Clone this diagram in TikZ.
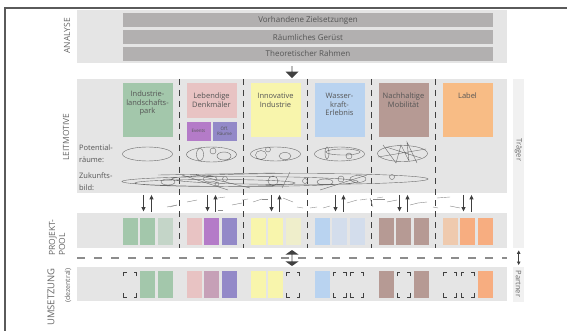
\documentclass[tikz,border=0pt]{standalone}
\usepackage{fontspec}
\setmainfont{Open Sans}
\usetikzlibrary{positioning,arrows.meta,shapes.arrows}

\definecolor{band}{HTML}{E5E5E5}
\definecolor{balken}{HTML}{B2B0B0}
\definecolor{seite}{HTML}{F1F1F1}
\definecolor{tinte}{HTML}{555555}
\definecolor{titelgrau}{HTML}{666666}
\definecolor{dunkel}{HTML}{404040}
\definecolor{strich}{HTML}{6A6A6A}
\definecolor{splitter}{HTML}{8C8C8C}
\definecolor{randgrau}{HTML}{5A5A5A}
\definecolor{gruen}{HTML}{A3C7AB}
\definecolor{gruenhell}{HTML}{C4D5C8}
\definecolor{rosa}{HTML}{E8C3C3}
\definecolor{lila}{HTML}{B47BC8}
\definecolor{violett}{HTML}{9389C8}
\definecolor{mauve}{HTML}{C6A0B7}
\definecolor{gelb}{HTML}{F8F5AC}
\definecolor{gelbhell}{HTML}{EFEECB}
\definecolor{blau}{HTML}{B9D3F0}
\definecolor{blauhell}{HTML}{D3DDEC}
\definecolor{braun}{HTML}{B69A94}
\definecolor{orangeton}{HTML}{F7AD80}
\definecolor{orangehell}{HTML}{EFCAAE}
\definecolor{labelorange}{HTML}{F8BC85}

\begin{document}
\begin{tikzpicture}[x=1pt,y=-1pt,
    every node/.style={text=tinte, font=\fontsize{7.5}{8.5}\selectfont},
    rand/.style={draw=randgrau, line width=1.3pt},
    band/.style={fill=band, anchor=north west, minimum width=430pt, inner sep=0pt},
    seite/.style={fill=seite, anchor=north west, minimum width=11pt, inner sep=0pt},
    balken/.style={fill=balken, minimum width=370pt, minimum height=14pt, inner sep=0pt,
      font=\fontsize{8}{9}\selectfont},
    motiv/.style={fill=#1, anchor=north, minimum width=50pt, minimum height=54pt, inner sep=0pt},
    motivtext/.style={anchor=north, align=center, inner sep=0pt},
    klein/.style={fill=#1, minimum width=24pt, minimum height=19pt, inner sep=0pt,
      align=center, font=\fontsize{4.5}{5.5}\selectfont},
    zeile/.style={anchor=west, align=left, inner sep=0pt, font=\fontsize{7.5}{12}\selectfont},
    titel/.style={rotate=90, text=titelgrau, font=\fontsize{8.5}{10}\selectfont, inner sep=0pt},
    seitentext/.style={rotate=-90, text=titelgrau, font=\fontsize{7.5}{8}\selectfont, inner sep=0pt},
    slot/.style={fill=#1, minimum width=15pt, minimum height=27pt, inner sep=0pt},
    ecke/.style={draw=dunkel, line width=0.6pt},
    frei/.style={slot=band, path picture={
      \draw[ecke] ([shift={(1pt,-5pt)}]path picture bounding box.north west) -- ++(0pt,4pt) -- ++(3pt,0pt);
      \draw[ecke] ([shift={(-1pt,-5pt)}]path picture bounding box.north east) -- ++(0pt,4pt) -- ++(-3pt,0pt);
      \draw[ecke] ([shift={(1pt,5pt)}]path picture bounding box.south west) -- ++(0pt,-4pt) -- ++(3pt,0pt);
      \draw[ecke] ([shift={(-1pt,5pt)}]path picture bounding box.south east) -- ++(0pt,-4pt) -- ++(-3pt,0pt);}},
    linie/.style={draw=strich, line width=0.4pt},
    trenn/.style={draw=dunkel, line width=0.6pt, dash pattern=on 6pt off 5pt},
    grenze/.style={draw=splitter, line width=1.3pt, dash pattern=on 8pt off 9pt},
    pfeil/.style={draw=dunkel, line width=1pt, -{Triangle[length=4.5pt,width=4pt]},
      shorten <=1.5pt, shorten >=1.5pt},
    doppelpfeil/.style={draw=dunkel, line width=0.8pt, {Triangle[length=3.5pt,width=3.5pt]}-{Triangle[length=3.5pt,width=3.5pt]},
      shorten <=2pt, shorten >=2pt},
    blockpfeil/.style={single arrow, fill=dunkel, rotate=-90, minimum height=12pt, minimum width=13pt,
      single arrow head extend=3.5pt, single arrow head indent=0pt, inner sep=0pt},
    doppelblock/.style={double arrow, fill=dunkel, rotate=90, minimum height=16pt, minimum width=13pt,
      double arrow head extend=3pt, double arrow tip angle=110, inner sep=0pt}
  ]
  \path[use as bounding box] (0,0) rectangle (567,331);
  \clip (0,0) rectangle (567,331);

  % Rahmen
  \draw[rand] (567,8) -- (5,8) -- (5,331);

  % Baender
  \node[band, minimum height=53pt] (analyse) at (77,10) {};
  \node[band, minimum height=114pt] (leit) at (77,79) {};
  \node[band, minimum height=35pt] (pool) at (77,213) {};
  \node[band, minimum height=34pt] (ums) at (77,267) {};
  \node[seite, minimum height=169pt] (traeger) at (513,79) {};
  \node[seite, minimum height=35pt] (partner) at (513,267) {};

  % Analyse
  \node[balken] (ziele) at (308,20) {Vorhandene Zielsetzungen};
  \node[balken, below=3pt of ziele] (geruest) {Räumliches Gerüst};
  \node[balken, below=2pt of geruest] (theorie) {Theoretischer Rahmen};
  \node[blockpfeil] (ab) at (292,72) {};

  % Titel
  \node[titel] (t-analyse) at (67,36) {ANALYSE};
  \node[titel] (t-leit) at (66,137) {LEITMOTIVE};
  \node[titel, align=left, anchor=west] (t-pool) at (57,256) {PROJEKT-\\POOL};
  \node[titel, anchor=east, font=\fontsize{9.5}{10}\selectfont] (t-ums) at (51,268) {UMSETZUNG};
  \node[titel, anchor=east, font=\fontsize{7}{8}\selectfont] (t-dez) at (68,268) {(dezentral)};
  \node[seitentext] (t-traeger) at (518.5,150) {Träger};
  \node[seitentext] (t-partner) at (518.5,284) {Partner};
  \draw[doppelpfeil] (traeger.south) -- (partner.north);

  % Leitmotive
  \node[motiv=gruen] (m1) at (147.5,83) {};
  \node[motivtext, below=8pt of m1.north] (m1t) {Industrie-\\landschafts-\\park};
  \node[motiv=rosa, minimum height=35pt] (m2) at (211.5,83) {};
  \node[motivtext, below=10pt of m2.north] (m2t) {Lebendige\\Denkmäler};
  \node[klein=lila, below right=3pt and 0pt of m2.south west] (events) {Events};
  \node[klein=violett, below left=3pt and 0pt of m2.south east] (oeff) {Öff.\\Räume};
  \node[motiv=gelb] (m3) at (275.5,83) {};
  \node[motivtext, below=10pt of m3.north] (m3t) {Innovative\\Industrie};
  \node[motiv=blau] (m4) at (339.5,83) {};
  \node[motivtext, below=10pt of m4.north] (m4t) {Wasser-\\kraft-\\Erlebnis};
  \node[motiv=braun] (m5) at (403.5,83) {};
  \node[motivtext, below=10pt of m5.north] (m5t) {Nachhaltige\\Mobilität};
  \node[motiv=labelorange] (m6) at (467.5,83) {};
  \node[motivtext, below=10pt of m6.north] (m6t) {Label};

  \node[zeile] (pot) at (79,154) {Potential-\\räume:};
  \node[zeile] (zuk) at (79,182) {Zukunfts-\\bild:};

  \foreach \x in {179.5,243.5,307.5,371.5,435.5}
    \draw[trenn] (\x,0 |- leit.north) -- (\x,0 |- pool.south);

  % Potentialraeume
  \draw[linie] (147.5,154) ellipse [x radius=25pt, y radius=7pt];
  \draw[linie] (211.5,154.5) ellipse [x radius=25pt, y radius=7.5pt]
    (200,154.5) ellipse [x radius=3.5pt, y radius=6.5pt]
    (213,151) circle [radius=3pt]
    (224,156) ellipse [x radius=7pt, y radius=4pt];
  \draw[linie] (275.5,154) ellipse [x radius=25pt, y radius=7pt]
    (261,155) ellipse [x radius=5.5pt, y radius=4.5pt]
    (268,149.5) circle [radius=2.5pt]
    (285,156) ellipse [x radius=6pt, y radius=3.5pt];
  \draw[linie] (339.5,154) ellipse [x radius=25pt, y radius=7pt]
    (343,152) ellipse [x radius=17pt, y radius=3pt]
    (327,153) ellipse [x radius=2pt, y radius=6pt]
    (349,156) circle [radius=3pt];
  \draw[linie] (402.5,153.5) ellipse [x radius=25pt, y radius=8pt];
  \draw[linie] (383,145) -- (396,163) -- (401,145) -- (409,161) -- (407,142) -- (417,163)
    (378,157) -- (426,149) (386,147) -- (421,158);

  % Zukunftsbild
  \draw[linie] (240,181.5) ellipse [x radius=118pt, y radius=5pt]
    (300,179) ellipse [x radius=128pt, y radius=5.5pt]
    (215,183) ellipse [x radius=80pt, y radius=3.5pt]
    (168,182) ellipse [x radius=7pt, y radius=3pt]
    (210,179) ellipse [x radius=7pt, y radius=3pt]
    (225,179) circle [radius=2.5pt]
    (217,184) circle [radius=2pt]
    (273,181) circle [radius=5pt]
    (305,181) circle [radius=2.5pt]
    (325,182) ellipse [x radius=8pt, y radius=3pt]
    (341,179) circle [radius=3pt]
    (358,179) ellipse [x radius=8pt, y radius=3.5pt]
    (392,177) circle [radius=2.5pt];
  \draw[linie] (182,175) -- (228,190) (196,175) -- (250,188)
    (282,188) -- (290,172) (320,190) -- (367,175) (158,175) -- (275,173);

  % Splitter zwischen den Ebenen
  \foreach \xa/\ya/\xb/\yb in {170/207/177/205, 187/202/197/200, 167/207/177/205,
      218/198/225/197, 218/210/223/210, 232/205/242/203, 242/200/248/199,
      253/202/262/199, 262/199/268/199, 283/198/293/202, 297/207/303/208,
      310/208/317/207, 323/208/330/206, 347/203/357/200, 360/200/367/199,
      370/198/373/207, 373/199/385/199, 377/198/383/197, 387/202/397/200,
      410/205/418/203, 418/203/427/202, 433/207/438/208, 437/198/450/197, 450/206/460/208}
    \draw[draw=splitter, line width=0.4pt] (\xa,\ya) -- (\xb,\yb);

  \foreach \x in {147.5,211.5,275.5,339.5,403.5,467.5} {
    \draw[pfeil] (\x-4,0 |- leit.south) -- (\x-4,0 |- pool.north);
    \draw[pfeil] (\x+4,0 |- pool.north) -- (\x+4,0 |- leit.south);
  }

  % Projektpool
  \foreach \x/\f [count=\i] in {130/gruen, 147.5/gruen, 165/gruenhell,
      194/rosa, 211.5/lila, 229/violett, 258/gelb, 275.5/gelb, 293/gelbhell,
      322/blau, 339.5/blauhell, 357/blauhell, 386/braun, 403.5/braun, 421/braun,
      450/orangehell, 467.5/orangeton, 485/orangeton}
    \node[slot=\f] (p\i) at (\x,231.5) {};

  \draw[grenze] (pool.south west |- 0,258) -- (pool.south east |- 0,258);
  \node[doppelblock] (tausch) at (292,258) {};

  % Umsetzung
  \foreach \x/\f [count=\i] in {147.5/gruen, 165/gruen, 194/rosa, 211.5/mauve,
      229/violett, 258/gelb, 275.5/gelb, 322/blau, 386/braun, 421/braun, 485/orangeton}
    \node[slot=\f] (u\i) at (\x,284.5) {};
  \foreach \x [count=\i] in {130, 293, 339.5, 357, 403.5, 450, 467.5}
    \node[frei] (f\i) at (\x,284.5) {};
\end{tikzpicture}
\end{document}
